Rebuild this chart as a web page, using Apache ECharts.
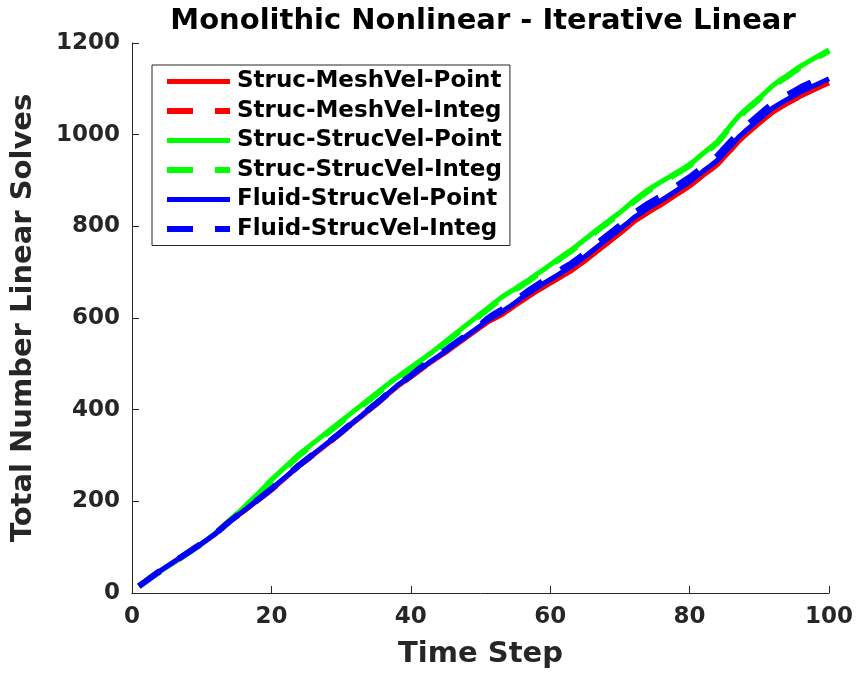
<!DOCTYPE html>
<html>
<head>
<meta charset="utf-8">
<script src="https://cdn.jsdelivr.net/npm/echarts@6/dist/echarts.min.js"></script>
<style>
html,body{margin:0;padding:0;background:#fff;}
#chart{width:857px;height:674px;}
</style>
</head>
<body>
<div id="chart"></div>
<script>
// ---- data ----
var timeSteps = [1,2,3,4,5,6,7,8,9,10,11,12,13,14,15,16,17,18,19,20,21,22,23,24,25,26,27,28,29,30,31,32,33,34,35,36,37,38,39,40,41,42,43,44,45,46,47,48,49,50,51,52,53,54,55,56,57,58,59,60,61,62,63,64,65,66,67,68,69,70,71,72,73,74,75,76,77,78,79,80,81,82,83,84,85,86,87,88,89,90,91,92,93,94,95,96,97,98,99,100];

var strucMeshVelPoint = [15,26,37,47,57,67,77,87,97,107,118,129,143,156,167,178,190,202,213,225,238,251,265,278,289,301,313,325,337,349,362,374,386,399,411,424,437,450,461,472,483,494,505,515,525,536,547,558,569,580,591,599,607,617,628,638,648,658,667,676,685,694,703,714,725,737,749,761,773,785,797,810,820,830,839,848,858,868,878,888,900,912,923,935,952,968,985,999,1012,1025,1038,1050,1059,1068,1076,1085,1092,1099,1106,1113];

var strucMeshVelInteg = [15,26,37,47,57,67,77,88,98,108,119,130,144,157,168,179,191,203,214,226,239,252,266,279,290,302,314,326,338,350,363,375,387,400,412,425,438,451,462,473,484,495,506,517,527,538,549,560,571,582,593,601,609,619,630,640,650,660,669,678,687,696,705,716,727,739,751,763,775,787,799,812,822,832,841,850,860,870,880,890,902,914,925,937,954,970,987,1001,1014,1027,1040,1052,1061,1070,1078,1087,1094,1101,1108,1116];

var strucStrucVelPoint = [15,26,37,47,57,67,77,87,98,108,119,131,144,158,172,186,201,215,231,247,261,275,289,303,315,327,339,351,363,375,387,399,411,423,435,447,459,470,481,492,503,514,525,537,549,561,573,585,597,609,621,633,645,655,664,674,684,695,705,716,727,738,748,760,772,784,796,807,819,830,843,856,868,879,889,898,907,916,925,935,947,960,972,985,1003,1022,1040,1054,1067,1080,1094,1108,1119,1129,1140,1150,1159,1168,1176,1185];

var strucStrucVelInteg = [15,26,37,47,57,67,77,87,97,107,118,130,143,157,171,185,199,213,229,245,259,273,287,301,313,325,337,349,361,373,385,397,409,421,433,445,457,468,479,490,501,512,523,535,547,559,571,583,595,607,619,631,643,653,662,672,682,693,703,714,725,736,746,758,770,782,794,805,817,828,841,854,866,877,887,896,905,914,923,933,945,958,970,983,1001,1020,1038,1052,1065,1078,1092,1106,1117,1127,1138,1148,1157,1166,1174,1183];

var fluidStrucVelPoint = [15,26,37,48,58,68,78,88,98,108,119,130,143,156,168,179,191,203,215,227,240,253,266,279,291,303,315,327,339,351,364,376,388,401,413,426,439,452,463,474,485,496,507,517,528,539,550,561,572,583,595,604,613,623,634,645,655,665,675,684,693,703,712,723,734,746,758,770,782,794,806,819,829,839,848,857,867,877,887,897,909,921,932,944,961,977,994,1008,1021,1034,1047,1059,1068,1077,1085,1094,1101,1108,1115,1122];

var fluidStrucVelInteg = [15,26,37,48,58,68,78,88,98,108,119,130,143,156,168,179,191,203,215,227,240,253,266,279,291,303,315,327,339,351,364,376,388,401,413,426,439,452,463,474,487,498,509,519,530,541,552,563,574,585,599,609,618,628,639,650,661,671,681,691,700,710,719,730,741,754,766,778,790,802,815,829,839,849,858,867,877,887,897,907,919,931,942,954,971,987,1004,1018,1031,1044,1057,1069,1078,1087,1095,1104,1111,1118,1125,1132];

var seriesNames = ['Struc-MeshVel-Point','Struc-MeshVel-Integ','Struc-StrucVel-Point','Struc-StrucVel-Integ','Fluid-StrucVel-Point','Fluid-StrucVel-Integ'];
var seriesValues = [strucMeshVelPoint, strucMeshVelInteg, strucStrucVelPoint, strucStrucVelInteg, fluidStrucVelPoint, fluidStrucVelInteg];
var seriesColors = ['#ff0000','#ff0000','#00ff00','#00ff00','#0000ff','#0000ff'];
var seriesDashed = [false,true,false,true,false,true];

var xTicks = [0,20,40,60,80,100];
var yTicks = [0,200,400,600,800,1000,1200];

var FONT = 'DejaVu Sans';
var TXT = '#262626';

var chart = echarts.init(document.getElementById('chart'), null, {renderer:'canvas'});

var series = seriesNames.map(function(name, i){
  return {
    name: name,
    type: 'line',
    data: timeSteps.map(function(t, k){ return [t, seriesValues[i][k]]; }),
    symbol: 'none',
    showSymbol: false,
    animation: false,
    lineStyle: {
      color: seriesColors[i],
      width: seriesDashed[i] ? 6 : 5,
      type: seriesDashed[i] ? [26, 22] : 'solid',
      cap: 'butt'
    },
    itemStyle: {color: seriesColors[i]},
    z: 2 + i
  };
});

chart.setOption({
  animation: false,
  backgroundColor: '#ffffff',
  title: {
    text: 'Monolithic Nonlinear - Iterative Linear',
    left: 478, top: 2, textAlign: 'center',
    textStyle: {fontFamily: FONT, fontWeight: 'bold', fontSize: 29, color: '#000'}
  },
  grid: {left: 132, right: 28, top: 43, bottom: 77, containLabel: false},
  legend: {
    orient: 'vertical',
    left: 152, top: 65,
    padding: [5, 8, 5, 12],
    itemGap: 6.5,
    itemWidth: 63,
    itemHeight: 22,
    borderColor: '#262626',
    borderWidth: 1,
    backgroundColor: '#fff',
    itemStyle: {opacity: 0},
    lineStyle: {width: 'inherit', type: 'inherit', cap: 'butt'},
    textStyle: {fontFamily: FONT, fontWeight: 'bold', fontSize: 23, color: '#000', padding: [0,0,0,2]},
    data: seriesNames.map(function(n){ return {name: n}; })
  },
  xAxis: {
    type: 'value', min: 0, max: 100, interval: 20,
    name: 'Time Step', nameLocation: 'middle', nameGap: 47,
    nameTextStyle: {fontFamily: FONT, fontWeight: 'bold', fontSize: 29, color: TXT},
    axisLine: {show: true, onZero: false, lineStyle: {color: TXT, width: 1}},
    axisTick: {show: true, inside: true, length: 7, lineStyle: {color: TXT}},
    axisLabel: {fontFamily: FONT, fontWeight: 'bold', fontSize: 23, color: TXT, margin: 13,
      formatter: function(v){ return xTicks.indexOf(v) >= 0 ? String(v) : ''; }},
    splitLine: {show: false}
  },
  yAxis: {
    type: 'value', min: 0, max: 1200, interval: 200,
    name: 'Total Number Linear Solves', nameLocation: 'middle', nameGap: 94,
    nameTextStyle: {fontFamily: FONT, fontWeight: 'bold', fontSize: 29, color: TXT},
    axisLine: {show: true, onZero: false, lineStyle: {color: TXT, width: 1}},
    axisTick: {show: true, inside: true, length: 7, lineStyle: {color: TXT}},
    axisLabel: {fontFamily: FONT, fontWeight: 'bold', fontSize: 23, color: TXT, margin: 12,
      formatter: function(v){ return yTicks.indexOf(v) >= 0 ? String(v) : ''; }},
    splitLine: {show: false}
  },
  series: series
});
</script>
</body>
</html>
